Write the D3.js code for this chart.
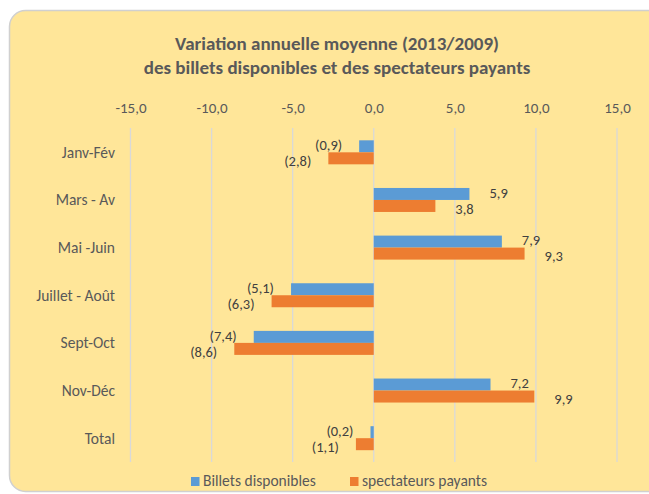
<!DOCTYPE html>
<html>
<head>
<meta charset="utf-8">
<script src="https://cdn.jsdelivr.net/npm/d3@7"></script>
<style>
  body { margin: 0; background: #fff; }
  svg text { font-family: Carlito, Calibri, Lato, "Open Sans", sans-serif; }
</style>
</head>
<body>
<svg id="chart" width="649" height="494"></svg>
<script>
// données
var categories = ["Janv-Fév", "Mars - Av", "Mai -Juin", "Juillet - Août", "Sept-Oct", "Nov-Déc", "Total"];
var billets = [-0.9, 5.9, 7.9, -5.1, -7.4, 7.2, -0.2];
var spectateurs = [-2.8, 3.8, 9.3, -6.3, -8.6, 9.9, -1.1];
var seriesNames = ["Billets disponibles", "spectateurs payants"];
var seriesColors = ["#5B9BD5", "#ED7D31"];
var tickValues = [-15, -10, -5, 0, 5, 10, 15];

var svg = d3.select("#chart");

// fond jaune arrondi
svg.append("rect")
  .attr("x", 9.5).attr("y", 10.5)
  .attr("width", 660).attr("height", 481)
  .attr("rx", 16).attr("ry", 16)
  .attr("fill", "#FFE699")
  .attr("stroke", "#D0D0D0")
  .attr("stroke-width", 1.5);

// titre
var title = svg.append("text")
  .attr("x", 337).attr("y", 50)
  .attr("text-anchor", "middle")
  .attr("fill", "#595959")
  .attr("font-weight", "bold")
  .attr("font-size", 19);
title.append("tspan").attr("x", 337).attr("dy", 0).text("Variation annuelle moyenne (2013/2009)");
title.append("tspan").attr("x", 337).attr("dy", 24).text("des billets disponibles et des spectateurs payants");

var x = d3.scaleLinear().domain([-15, 15]).range([130.5, 617]);
var y = d3.scaleBand().domain(categories).range([128.5, 462]).paddingInner(0).paddingOuter(0);
var barH = 12;

var fmt = function(v) {
  var s = Math.abs(v).toFixed(1).replace(".", ",");
  return v < 0 ? "(" + s + ")" : s;
};

// quadrillage
svg.append("g").selectAll("line")
  .data(tickValues).enter()
  .append("line")
  .attr("x1", function(d) { return x(d); })
  .attr("x2", function(d) { return x(d); })
  .attr("y1", 128).attr("y2", 462)
  .attr("stroke", "#D9D9D9")
  .attr("stroke-width", 1.3);

// axe du haut
var axis = svg.append("g")
  .attr("transform", "translate(0,113)")
  .call(d3.axisTop(x).tickValues(tickValues).tickSize(0).tickPadding(0)
    .tickFormat(function(d) { return d.toFixed(1).replace(".", ","); }));
axis.select(".domain").remove();
axis.selectAll("text")
  .attr("font-size", 15)
  .attr("fill", "#595959")
  .attr("font-family", null);

// étiquettes des catégories
svg.append("g").selectAll("text")
  .data(categories).enter()
  .append("text")
  .attr("x", 115)
  .attr("y", function(d) { return y(d) + y.bandwidth() / 2; })
  .attr("dy", "0.35em")
  .attr("text-anchor", "end")
  .attr("font-size", 15.5)
  .attr("fill", "#595959")
  .text(function(d) { return d; });

// barres
var series = [billets, spectateurs];
series.forEach(function(vals, si) {
  var g = svg.append("g");
  var rows = vals.map(function(v, i) { return { cat: categories[i], v: v }; });
  var yOf = function(d) { return y(d.cat) + y.bandwidth() / 2 - barH + si * barH; };

  g.selectAll("rect")
    .data(rows).enter()
    .append("rect")
    .attr("x", function(d) { return Math.min(x(0), x(d.v)); })
    .attr("y", yOf)
    .attr("width", function(d) { return Math.abs(x(d.v) - x(0)); })
    .attr("height", barH)
    .attr("fill", seriesColors[si]);

  g.selectAll("text")
    .data(rows).enter()
    .append("text")
    .attr("x", function(d) { return d.v < 0 ? x(d.v) - 17 : x(d.v) + 20; })
    .attr("y", function(d) { return yOf(d) + barH / 2 + (si === 0 ? -2 : 2); })
    .attr("dy", "0.4em")
    .attr("text-anchor", function(d) { return d.v < 0 ? "end" : "start"; })
    .attr("font-size", 14.5)
    .attr("fill", "#404040")
    .text(function(d) { return fmt(d.v); });
});

// légende
var legend = svg.append("g");
var legX = [191, 350];
seriesNames.forEach(function(name, i) {
  legend.append("rect")
    .attr("x", legX[i]).attr("y", 477)
    .attr("width", 8.5).attr("height", 9)
    .attr("fill", seriesColors[i]);
  legend.append("text")
    .attr("x", legX[i] + 12).attr("y", 481)
    .attr("dy", "0.35em")
    .attr("font-size", 15.5)
    .attr("fill", "#595959")
    .text(name);
});
</script>
</body>
</html>
